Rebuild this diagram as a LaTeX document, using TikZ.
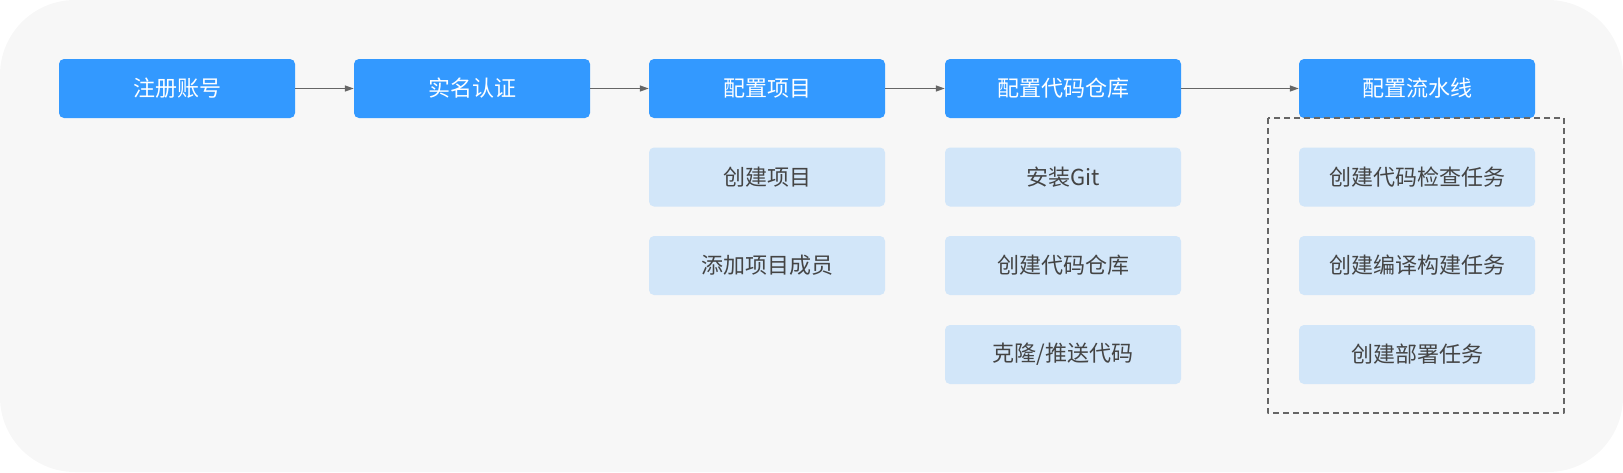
\documentclass[tikz,border=0pt]{standalone}
\usepackage{fontspec}
\usepackage{xcolor}
\usepackage{tikz}
\usetikzlibrary{arrows.meta}
\newfontfamily\cjk{Noto Sans CJK SC}
\definecolor{bgGray}{HTML}{F7F7F7}
\definecolor{stepBlue}{HTML}{3399FF}
\definecolor{subBlue}{HTML}{D2E6F9}
\definecolor{lineGray}{HTML}{666666}
\definecolor{txtGray}{HTML}{444444}

\begin{document}
\begin{tikzpicture}[x=1pt,y=-1pt,>={Triangle[length=9pt,width=6pt]},line join=round,
  mainbox/.style={fill=stepBlue,rounded corners=5pt,minimum width=236pt,minimum height=59pt,
    inner sep=0pt,text=white,font=\cjk\fontsize{22}{26}\selectfont},
  subbox/.style={fill=subBlue,rounded corners=5pt,minimum width=236pt,minimum height=59pt,
    inner sep=0pt,text=txtGray,font=\cjk\fontsize{22}{26}\selectfont},
  flow/.style={->,draw=lineGray,fill=lineGray,line width=1.3pt}]
  \useasboundingbox (0,0) rectangle (1623,472);
  \fill[bgGray,rounded corners=75pt] (0,0) rectangle (1623,472);
  % main steps
  \node[mainbox] (reg) at (177,88.5) {注册账号};
  \node[mainbox] (auth) at (472,88.5) {实名认证};
  \node[mainbox] (proj) at (767,88.5) {配置项目};
  \node[mainbox] (repo) at (1063,88.5) {配置代码仓库};
  \node[mainbox] (pipe) at (1417,88.5) {配置流水线};
  \draw[flow] (reg) -- (auth);
  \draw[flow] (auth) -- (proj);
  \draw[flow] (proj) -- (repo);
  \draw[flow] (repo) -- (pipe);
  % sub steps
  \node[subbox] (projA) at (767,177) {创建项目};
  \node[subbox] (projB) at (767,265.5) {添加项目成员};
  \node[subbox] (repoA) at (1063,177) {安装Git};
  \node[subbox] (repoB) at (1063,265.5) {创建代码仓库};
  \node[subbox] (repoC) at (1063,354.5) {克隆/推送代码};
  \node[subbox] (pipeA) at (1417,177) {创建代码检查任务};
  \node[subbox] (pipeB) at (1417,265.5) {创建编译构建任务};
  \node[subbox] (pipeC) at (1417,354.5) {创建部署任务};
  \draw[lineGray,line width=1.3pt,dash pattern=on 6pt off 4pt] (1268,118) rectangle (1564,413);
\end{tikzpicture}
\end{document}
